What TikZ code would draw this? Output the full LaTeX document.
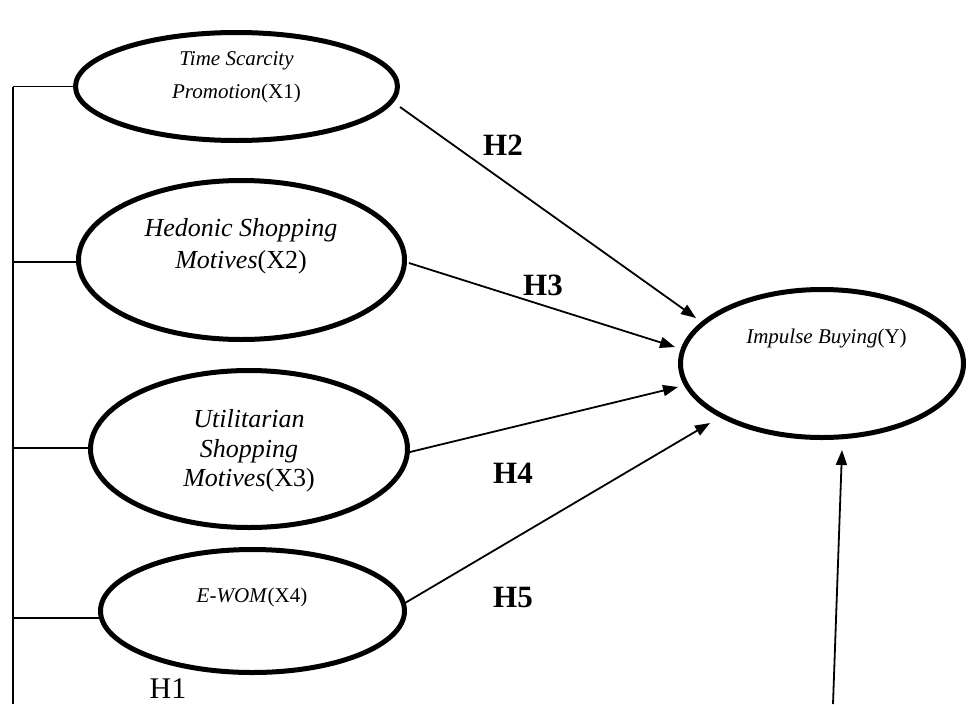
\documentclass[tikz,border=0pt]{standalone}
\usepackage{fontspec}
\setmainfont{Liberation Serif}
\usetikzlibrary{shapes.geometric,arrows.meta,calc}
\begin{document}
\begin{tikzpicture}[x=1pt,y=-1pt,
  latent/.style={ellipse,draw,line width=5pt,inner sep=0pt},
  lbl/.style={anchor=base,inner sep=0pt},
  small/.style={font=\fontsize{21}{25}\selectfont},
  big/.style={font=\fontsize{26}{30}\selectfont},
  hlab/.style={anchor=base,inner sep=0pt,font=\fontsize{31}{35}\selectfont\bfseries},
  conn/.style={line width=1.8pt},
  arr/.style={line width=1.8pt,-{Triangle[length=15pt,width=11pt]}}
]
\useasboundingbox (0,0) rectangle (968,704);

% latent variables
\node[latent,minimum width=322pt,minimum height=108pt] (x1) at (236.5,86.5) {};
\node[latent,minimum width=326pt,minimum height=159pt] (x2) at (241.5,260) {};
\node[latent,minimum width=317pt,minimum height=157pt] (x3) at (249,449) {};
\node[latent,minimum width=304pt,minimum height=123pt] (x4) at (252.5,611) {};
\node[latent,minimum width=283pt,minimum height=148pt] (y) at (822,363.5) {};

% texts
\node[lbl,small] (x1a) at (236.5,65) {\textit{Time Scarcity}};
\node[lbl,small] (x1b) at (236.5,98) {\textit{Promotion}(X1)};
\node[lbl,big] (x2a) at (241,236) {\textit{Hedonic Shopping}};
\node[lbl,big] (x2b) at (241,268) {\textit{Motives}(X2)};
\node[lbl,big] (x3a) at (249,427) {\textit{Utilitarian}};
\node[lbl,big] (x3b) at (249,457) {\textit{Shopping}};
\node[lbl,big] (x3c) at (249,486) {\textit{Motives}(X3)};
\node[lbl,small] (x4a) at (252,602) {\textit{E-WOM}(X4)};
\node[lbl,small] (ya) at (826.5,343) {\textit{Impulse Buying}(Y)};

% hypothesis labels
\node[hlab] (h2) at (503,155) {H2};
\node[hlab] (h3) at (543,295) {H3};
\node[hlab] (h4) at (513,483) {H4};
\node[hlab] (h5) at (513,607) {H5};
\node[anchor=base,inner sep=0pt,font=\fontsize{30}{34}\selectfont] (h1) at (168,698) {H1};

% left bracket
\coordinate (vtop) at (13,87);
\coordinate (vbot) at (13,704);
\coordinate (x1w) at (x1.west);
\coordinate (x2w) at ($(x2)+(-163,2)$);
\coordinate (x3w) at ($(x3)+(-158.5,-1)$);
\coordinate (x4w) at ($(x4)+(-151,7)$);
\draw[conn] (vtop) -- (vbot);
\draw[conn] (x1w) -- (x1w -| vtop);
\draw[conn] (x2w) -- (x2w -| vtop);
\draw[conn] (x3w) -- (x3w -| vtop);
\draw[conn] (x4w) -- (x4w -| vtop);

% paths
\draw[arr] ($(x1)+(163.5,20.5)$) -- ($(y)+(-126,-45.5)$);
\draw[arr] ($(x2)+(167.5,3)$) -- ($(y)+(-147,-16.5)$);
\draw[arr] ($(x3)+(161,3)$) -- ($(y)+(-144,23.5)$);
\draw[arr] ($(x4)+(152.5,-8)$) -- ($(y)+(-112,59.5)$);
\coordinate (ybot) at (833,704);
\draw[arr] (ybot) -- ($(y)+(20,86.5)$);
\end{tikzpicture}
\end{document}
